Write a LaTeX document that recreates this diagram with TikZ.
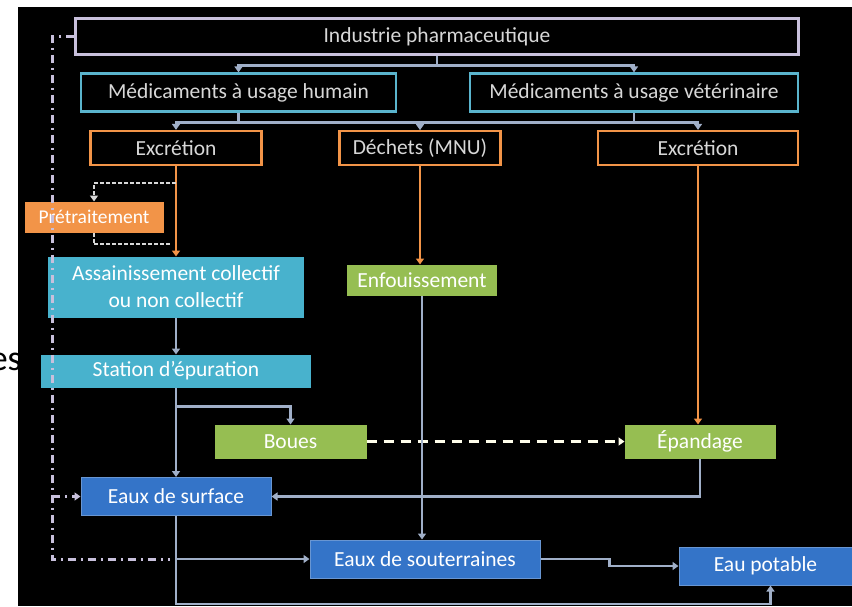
\documentclass[tikz,border=0pt]{standalone}
\usepackage{fontspec}
\setmainfont{Carlito}
\usetikzlibrary{arrows.meta}
\definecolor{lila}{RGB}{200,192,220}
\definecolor{cyanb}{RGB}{90,180,205}
\definecolor{orng}{RGB}{242,148,72}
\definecolor{tealf}{RGB}{72,178,205}
\definecolor{grn}{RGB}{150,190,82}
\definecolor{blu}{RGB}{52,116,200}
\definecolor{blul}{RGB}{105,150,210}
\definecolor{linkc}{RGB}{160,175,200}
\definecolor{txtg}{RGB}{215,215,215}
\begin{document}
\begin{tikzpicture}[x=1pt, y=-1pt, >={Triangle[length=6pt,width=8pt]},
    outl/.style={draw, line width=2.2pt, inner sep=0pt, text=txtg,
        font=\fontsize{21.5}{27}\selectfont},
    full/.style={draw=#1, fill=#1, line width=1pt, inner sep=0pt, text=white,
        font=\fontsize{21.5}{27}\selectfont},
    link/.style={draw=linkc, line width=2.4pt},
    olink/.style={draw=orng, line width=2.4pt},
    dlink/.style={draw=txtg, line width=1.4pt, dash pattern=on 4pt off 2pt},
    wdash/.style={draw=white!92!yellow, line width=3pt, dash pattern=on 10pt off 7pt},
    ddot/.style={draw=lila, line width=3pt, dash pattern=on 8pt off 5pt on 2pt off 5pt}]
    \useasboundingbox (0,0) rectangle (852,606);
    % background
    \fill[white] (0,0) rectangle (852,606);
    \node[anchor=base east, inner sep=0pt, font=\fontsize{36}{40}\selectfont] (es) at (22,370) {es};
    \fill[black] (18,7) rectangle (852,606);
    % sources
    \node[outl, draw=lila, minimum width=723, minimum height=36] (ind) at (437,36.5) {Industrie pharmaceutique};
    \node[outl, draw=cyanb, minimum width=315, minimum height=38] (hum) at (238.5,92.5) {Médicaments à usage humain};
    \node[outl, draw=cyanb, minimum width=328, minimum height=38] (vet) at (634,92.5) {Médicaments à usage vétérinaire};
    \node[outl, draw=orng, minimum width=171, minimum height=34] (exc1) at (176,148) {Excrétion};
    \node[outl, draw=orng, minimum width=161, minimum height=34] (dech) at (420,148) {Déchets (MNU)};
    \node[outl, draw=orng, minimum width=200, minimum height=34] (exc2) at (698,148) {Excrétion};
    % treatment
    \node[full=orng, minimum width=138, minimum height=30, font=\fontsize{19.5}{24}\selectfont] (pret) at (94,217) {Prétraitement};
    \node[full=tealf, minimum width=255, minimum height=60, align=center] (ass) at (176,287) {Assainissement collectif\\ou non collectif};
    \node[full=tealf, minimum width=269, minimum height=32] (sta) at (176,371) {Station d'épuration};
    \node[full=grn, minimum width=149, minimum height=30] (enf) at (422,280) {Enfouissement};
    \node[full=grn, minimum width=151, minimum height=33] (boues) at (290.5,441.5) {Boues};
    \node[full=grn, minimum width=150, minimum height=33] (epa) at (700,441.5) {Épandage};
    % waters
    \node[full=blu, draw=blul, minimum width=190, minimum height=38] (surf) at (176,496.5) {Eaux de surface};
    \node[full=blu, draw=blul, minimum width=230, minimum height=38] (sout) at (425,559) {Eaux de souterraines};
    \node[full=blu, draw=blul, minimum width=173, minimum height=38] (pot) at (765.5,566) {Eau potable};
    % links from the top
    \draw[link] (ind.south) -- ++(0,10) coordinate (j1);
    \draw[link,->] (j1) -| (hum.north);
    \draw[link,->] (j1) -| (vet.north);
    \draw[link] (hum.south) -- ++(0,10) coordinate (j2);
    \draw[link,->] (j2) -| (exc1.north);
    \draw[link,->] (j2) -| (dech.north);
    \draw[link] (vet.south) -- ++(0,10) coordinate (j3);
    \draw[link,->] (j3) -| (dech.north);
    \draw[link,->] (j3) -| (exc2.north);
    % orange flows
    \draw[olink,->] (exc1.south) -- (exc1.south |- ass.north);
    \draw[olink,->] (dech.south) -- (dech.south |- enf.north);
    \draw[olink,->] (exc2.south) -- (exc2.south |- epa.north);
    \path (exc1.south) ++(0,17) coordinate (p1);
    \path (exc1.south) ++(-4,78) coordinate (p2);
    \draw[dlink,->] (p1) -| (pret.north);
    \draw[dlink] (pret.south) |- (p2);
    % down to the waters
    \draw[link,->] (ass.south) -- (sta.north);
    \draw[link,->] (sta.south) -- (surf.north);
    \path (sta.south) ++(0,19) coordinate (b1);
    \draw[link,->] (b1) -| (boues.north);
    \draw[wdash,->] (boues.east) -- (epa.west);
    \draw[link,->] (epa.south) |- (surf.east);
    \draw[link,->] (enf.south) -- (enf.south |- sout.north);
    \coordinate (bot) at (0,604);
    \draw[link,->] (surf.south) |- ([xshift=5pt]pot.south |- bot) -- ([xshift=5pt]pot.south);
    \draw[link,->] (surf.south |- sout.west) -- (sout.west);
    \draw[link,->] (sout.east) -- ++(69,0) |- (pot.west);
    % direct discharge
    \draw[ddot] (ind.west) -- ++(-22,0) coordinate (d1) -- (d1 |- sout.west) -- ([xshift=-6pt]surf.south |- sout.west);
    \draw[ddot,->] (d1 |- surf.west) -- (surf.west);
\end{tikzpicture}
\end{document}
